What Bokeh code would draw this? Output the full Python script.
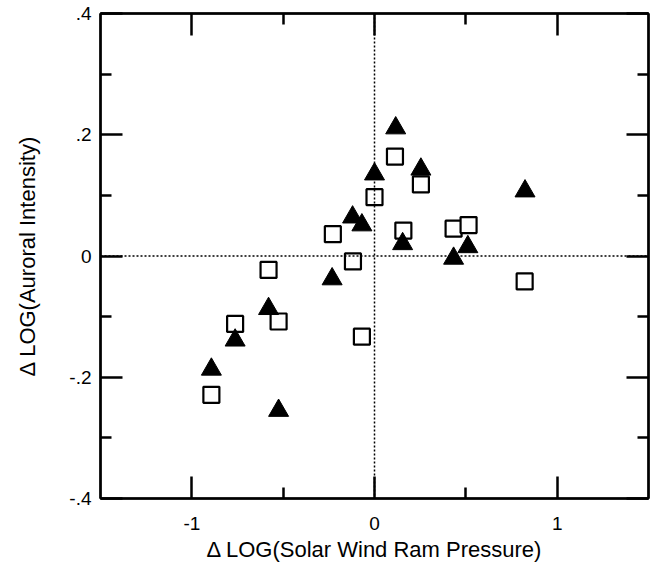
from bokeh.plotting import figure
from bokeh.models import FixedTicker, LinearAxis, Span, Range1d
from bokeh.embed import file_html
from bokeh.resources import INLINE

# filled triangles
tri_x = [0.116, 0.254, 0.0, -0.12, -0.069, 0.154, -0.232, -0.58, -0.763, -0.893, -0.525, 0.824, 0.511, 0.433]
tri_y = [0.211, 0.143, 0.135, 0.064, 0.051, 0.020, -0.038, -0.087, -0.139, -0.187, -0.255, 0.107, 0.015, -0.004]
# open squares
sq_x = [0.112, 0.254, 0.0, -0.228, 0.158, -0.118, -0.58, -0.525, -0.763, -0.069, -0.893, 0.433, 0.515, 0.822]
sq_y = [0.164, 0.118, 0.097, 0.036, 0.042, -0.009, -0.023, -0.108, -0.112, -0.133, -0.229, 0.045, 0.051, -0.042]

x_major = [-1, 0, 1]
x_minor = [-0.5, 0.5]
x_labels = {-1: "-1", 0: "0", 1: "1"}
y_major = [-0.4, -0.2, 0, 0.2, 0.4]
y_minor = [-0.3, -0.1, 0.1, 0.3]
y_labels = {-0.4: "-.4", -0.2: "-.2", 0: "0", 0.2: ".2", 0.4: ".4"}

FONT = "Liberation Sans"

p = figure(width=655, height=565, output_backend="svg", toolbar_location=None,
           x_range=Range1d(-1.5, 1.5), y_range=Range1d(-0.4, 0.4),
           x_axis_label="\u0394 LOG(Solar Wind Ram Pressure)",
           y_axis_label="\u0394 LOG(Auroral Intensity)",
           min_border_left=100, min_border_right=7, min_border_top=13, min_border_bottom=67)
p.xgrid.visible = False
p.ygrid.visible = False
p.outline_line_color = "black"
p.outline_line_width = 2
p.background_fill_color = "white"
p.border_fill_color = "white"

p.add_layout(LinearAxis(), "above")
p.add_layout(LinearAxis(), "right")

bottom = p.below[0]
left = p.left[0]
top = p.above[0]
right = p.right[0]

for ax in (bottom, top):
    ax.ticker = FixedTicker(ticks=x_major, minor_ticks=x_minor)
    ax.major_label_overrides = x_labels
for ax in (left, right):
    ax.ticker = FixedTicker(ticks=y_major, minor_ticks=y_minor)
    ax.major_label_overrides = y_labels
for ax in (bottom, top, left, right):
    ax.axis_line_color = "black"
    ax.axis_line_width = 2.5
    ax.major_tick_line_width = 2.5
    ax.minor_tick_line_width = 2.5
    ax.major_tick_in = 22
    ax.major_tick_out = 0
    ax.minor_tick_in = 11
    ax.minor_tick_out = 0
    ax.major_label_text_font = FONT
    ax.major_label_text_font_size = "19px"
    ax.major_label_text_color = "black"
    ax.axis_label_text_font = FONT
    ax.axis_label_text_font_size = "22px"
    ax.axis_label_text_font_style = "normal"
    ax.axis_label_text_color = "black"
bottom.major_label_standoff = 18
left.major_label_standoff = 9
bottom.axis_label_standoff = 4
left.axis_label_standoff = 26
for ax in (top, right):
    ax.major_label_text_font_size = "0px"
    ax.major_label_standoff = 0
    ax.axis_label = None

p.add_layout(Span(location=0, dimension="width", line_color="black", line_dash="2 2", line_width=1.5))
p.add_layout(Span(location=0, dimension="height", line_color="black", line_dash="2 2", line_width=1.5))

p.scatter(sq_x, sq_y, marker="square", size=16, fill_color="white", line_color="black", line_width=2.2)
p.scatter(tri_x, tri_y, marker="triangle", size=20, fill_color="black", line_color="black", line_width=1)

open("out.html", "w").write(file_html(p, INLINE))
